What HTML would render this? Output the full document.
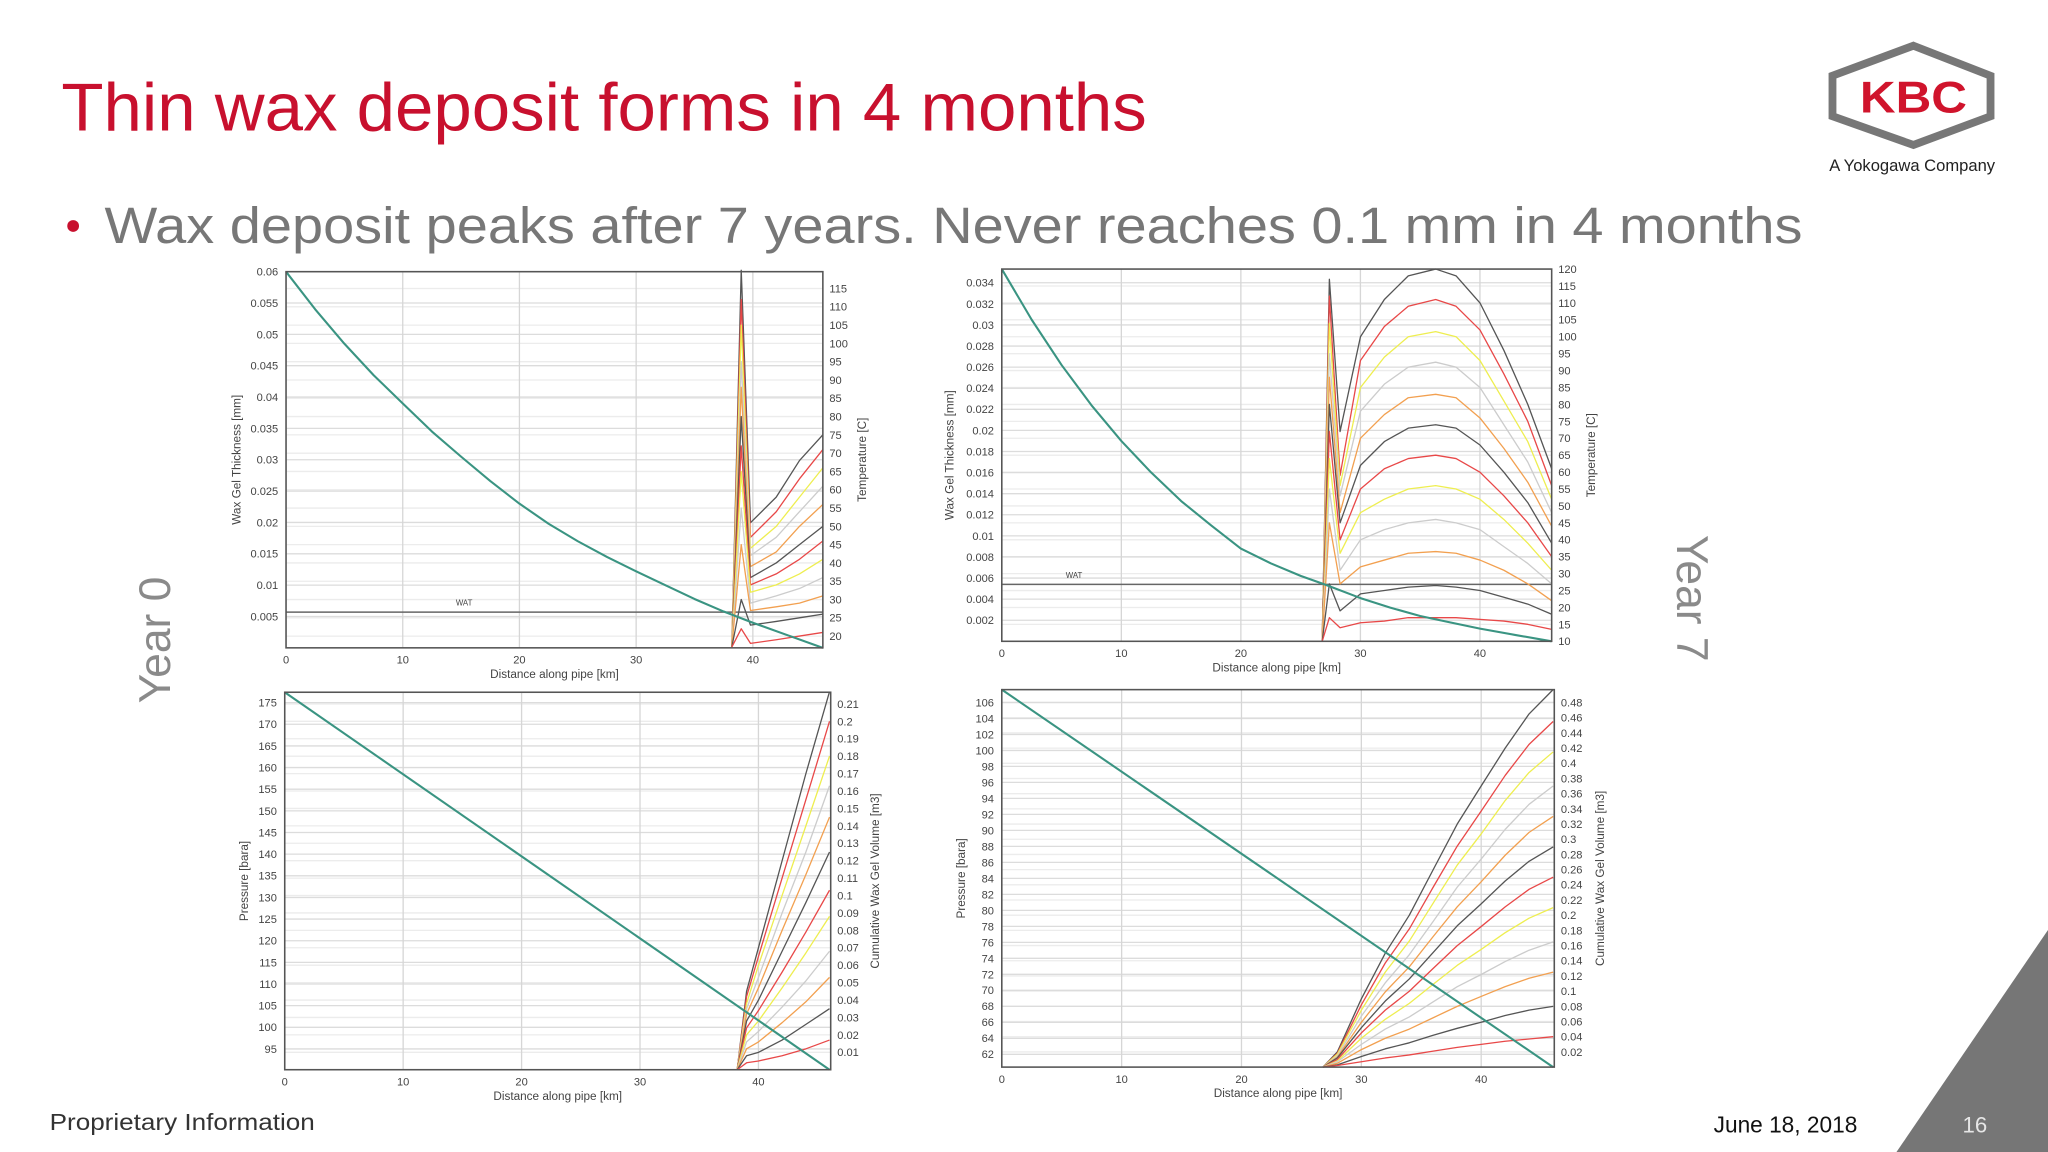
<!DOCTYPE html>
<html><head><meta charset="utf-8"><style>
html,body{margin:0;padding:0;background:#fff;}
svg{display:block;}
text{font-family:"Liberation Sans",sans-serif;}
</style></head><body>
<svg id="slide" width="2048" height="1152" viewBox="0 0 1568 882" xmlns="http://www.w3.org/2000/svg">
<rect x="0" y="0" width="1568" height="882" fill="#fff"/>
<text x="47" y="100" font-size="52" fill="#c8102e" textLength="831" lengthAdjust="spacingAndGlyphs">Thin wax deposit forms in 4 months</text>
<circle cx="56" cy="173" r="4.5" fill="#c8102e"/>
<text x="80" y="186" font-size="39" fill="#777" textLength="1300" lengthAdjust="spacingAndGlyphs">Wax deposit peaks after 7 years. Never reaches 0.1 mm in 4 months</text>
<g>
<polygon points="1465,35 1524,58 1524,89 1465,111 1403,89 1403,58" fill="#fff" stroke="#777" stroke-width="6"/>
<text x="1465" y="86" text-anchor="middle" font-size="34" font-weight="bold" fill="#d0142c" textLength="82" lengthAdjust="spacingAndGlyphs">KBC</text>
<text x="1464" y="131" text-anchor="middle" font-size="12.5" fill="#222" textLength="127" lengthAdjust="spacingAndGlyphs">A Yokogawa Company</text>
</g>
<text transform="translate(130,490) rotate(-90)" text-anchor="middle" font-size="34" fill="#8a8a8a">Year 0</text>
<text transform="translate(1284,458) rotate(90)" text-anchor="middle" font-size="34" fill="#8a8a8a">Year 7</text>
<g id="charts"></g>
<text x="38" y="865" font-size="18" fill="#333" textLength="203" lengthAdjust="spacingAndGlyphs">Proprietary Information</text>
<text x="1312" y="867" font-size="18" fill="#111" textLength="110" lengthAdjust="spacingAndGlyphs">June 18, 2018</text>
<polygon points="1452,882 1568,712 1568,882" fill="#767676"/>
<text x="1512" y="867" text-anchor="middle" font-size="17" fill="#e6e6e6">16</text>
</svg>
<script>
// ---- shared ----
const COLORS = ['#555','#e84848','#eeee50','#cccccc','#f2a050'];
const xTicks = [0,10,20,30,40];

// ---- chart A (top-left, year 0 thickness / temperature) ----
const aLeftTicks = [0.005,0.01,0.015,0.02,0.025,0.03,0.035,0.04,0.045,0.05,0.055,0.06];
const aRightTicks = [20,25,30,35,40,45,50,55,60,65,70,75,80,85,90,95,100,105,110,115];
const aGreenX = [0,2.5,5,7.5,10,12.5,15,17.5,20,22.5,25,27.5,30,32.5,35,37.5,40,43,46];
const aGreenY = [0.06,0.054,0.0485,0.0435,0.039,0.0345,0.0305,0.0266,0.023,0.0198,0.017,0.0145,0.0122,0.01,0.0078,0.0058,0.004,0.002,0];
const aSeriesX = [38.2,39,39.8,42,44,46];
const aSeries = [
 [17,120,51,58,68,75],[17,112,47,54,63,71],[17,105,44,50,58,66],[17,95,42,47,54,61],
 [17,88,39,43,50,56],[17,80,36,40,45,50],[17,72,34,37,41,46],[17,65,32,34,37,41],
 [17,55,29,31,33,36],[17,45,27,28,29,31],[17,30,23,24,25,26],[17,22,18,19,20,21]];
const aWat = 0.0057;

// ---- chart B (top-right, year 7 thickness / temperature) ----
const bLeftTicks = [0.002,0.004,0.006,0.008,0.01,0.012,0.014,0.016,0.018,0.02,0.022,0.024,0.026,0.028,0.03,0.032,0.034];
const bRightTicks = [10,15,20,25,30,35,40,45,50,55,60,65,70,75,80,85,90,95,100,105,110,115,120];
const bGreenX = [0,2.5,5,7.5,10,12.5,15,17.5,20,22.5,25,27,30,32.5,35,37.5,40,43,46];
const bGreenY = [0.0353,0.0305,0.0262,0.0224,0.019,0.016,0.0133,0.011,0.0088,0.0074,0.0062,0.0054,0.0041,0.0032,0.0024,0.0018,0.0012,0.0006,0];
const bSeriesX = [26.8,27.4,28.3,30,32,34,36.3,38,40,42,44,46];
const bSeries = [
 [10,117,72,100,111,118,120,118,110,96,80,61],
 [10,112,59,93,103,109,111,109,102,89,75,56],
 [10,104,56,85,94,100,101.5,100,93,81,69,52],
 [10,95,53,78,86,91,92.5,91,85,74,63,48],
 [10,88,48,70,77,82,83,82,76,67,57,44],
 [10,80,45,62,69,73,74,73,68,60,51,39],
 [10,72,40,55,61,64,65,64,60,53,45,35],
 [10,64,36,48,52,55,56,55,52,46,39,31],
 [10,55,31,40,43,45,46,45,43,38,33,27],
 [10,45,27,32,34,36,36.5,36,34,31,27,22],
 [10,27,19,24,25,26,26.5,26,25,23,21,18],
 [10,17,14,15.5,16,17,17,17,16.5,16,15,13.5]];
const bWat = 0.0054;

// ---- chart C (bottom-left, year 0 pressure / cumulative volume) ----
const cLeftTicks = [95,100,105,110,115,120,125,130,135,140,145,150,155,160,165,170,175];
const cRightTicks = [0.01,0.02,0.03,0.04,0.05,0.06,0.07,0.08,0.09,0.1,0.11,0.12,0.13,0.14,0.15,0.16,0.17,0.18,0.19,0.2,0.21];
const cGreenX = [0,46];
const cGreenY = [177.4,90.2];
const cSeriesX = [38.2,39,40,42,44,46];
const cSeries = [
 [0,0.045,0.07,0.12,0.17,0.217],[0,0.042,0.065,0.11,0.155,0.2],[0,0.038,0.06,0.1,0.14,0.18],
 [0,0.035,0.053,0.09,0.125,0.163],[0,0.032,0.047,0.08,0.112,0.145],[0,0.028,0.04,0.068,0.096,0.125],
 [0,0.024,0.034,0.056,0.079,0.103],[0,0.02,0.028,0.047,0.067,0.088],[0,0.016,0.022,0.036,0.051,0.068],
 [0,0.012,0.016,0.027,0.039,0.053],[0,0.008,0.01,0.017,0.026,0.035],[0,0.004,0.005,0.008,0.012,0.017]];

// ---- chart D (bottom-right, year 7 pressure / cumulative volume) ----
const dLeftTicks = [62,64,66,68,70,72,74,76,78,80,82,84,86,88,90,92,94,96,98,100,102,104,106];
const dRightTicks = [0.02,0.04,0.06,0.08,0.1,0.12,0.14,0.16,0.18,0.2,0.22,0.24,0.26,0.28,0.3,0.32,0.34,0.36,0.38,0.4,0.42,0.44,0.46,0.48];
const dGreenX = [0,46];
const dGreenY = [107.6,60.4];
const dSeriesX = [26.8,28,30,32,34,36,38,40,42,44,46];
const dSeries = [
 [0,0.02,0.09,0.15,0.2,0.26,0.32,0.37,0.42,0.465,0.497],
 [0,0.018,0.082,0.137,0.182,0.237,0.291,0.337,0.384,0.425,0.455],
 [0,0.017,0.075,0.125,0.166,0.216,0.266,0.307,0.351,0.388,0.415],
 [0,0.015,0.067,0.111,0.148,0.192,0.237,0.274,0.313,0.346,0.37],
 [0,0.013,0.059,0.099,0.132,0.172,0.211,0.244,0.279,0.309,0.33],
 [0,0.012,0.052,0.087,0.116,0.151,0.186,0.215,0.245,0.271,0.29],
 [0,0.01,0.045,0.075,0.1,0.13,0.16,0.185,0.211,0.234,0.25],
 [0,0.008,0.038,0.063,0.084,0.109,0.134,0.155,0.177,0.196,0.21],
 [0,0.007,0.03,0.05,0.066,0.086,0.106,0.122,0.139,0.154,0.165],
 [0,0.005,0.023,0.038,0.05,0.065,0.08,0.093,0.106,0.117,0.125],
 [0,0.003,0.014,0.024,0.032,0.042,0.051,0.059,0.068,0.075,0.08],
 [0,0.002,0.007,0.012,0.016,0.021,0.026,0.03,0.034,0.037,0.04]];

const NS='http://www.w3.org/2000/svg';
function mk(tag, attrs, parent){
  const e=document.createElementNS(NS,tag);
  for(const k in attrs) e.setAttribute(k,attrs[k]);
  parent.appendChild(e); return e;
}
function buildChart(cfg){
  const root=document.getElementById('charts');
  const g=mk('g',{},root);
  
  
  const L=cfg.l,R=cfg.r,T=cfg.t,B=cfg.b;
  const sx=v=>L+(v-0)/(cfg.xMax)*(R-L);
  const syL=v=>B-(v-cfg.yL[0])/(cfg.yL[1]-cfg.yL[0])*(B-T);
  const syR=v=>B-(v-cfg.yR[0])/(cfg.yR[1]-cfg.yR[0])*(B-T);
  mk('rect',{x:L,y:T,width:R-L,height:B-T,fill:'#fff'},g);
  cfg.rightTicks.forEach(v=>{ mk('line',{x1:L,x2:R,y1:syR(v),y2:syR(v),stroke:'#ececec','stroke-width':1},g); });
  cfg.leftTicks.forEach(v=>{
    const gl=mk('line',{x1:L,x2:R,y1:syL(v),y2:syL(v),stroke:'#dcdcdc','stroke-width':1},g);
    
    
    const t=mk('text',{x:L-6,y:syL(v)+3,'font-size':8.5,'text-anchor':'end',fill:'#444'},g);
    t.textContent=String(v);
    
    
  });
  xTicks.forEach(v=>{
    const gl=mk('line',{x1:sx(v),x2:sx(v),y1:T,y2:B,stroke:'#d6d6d6','stroke-width':1},g);
    
    
    const t=mk('text',{x:sx(v),y:B+12,'font-size':8.5,'text-anchor':'middle',fill:'#444'},g);
    t.textContent=String(v);
    
    
  });
  cfg.rightTicks.forEach(v=>{
    const t=mk('text',{x:R+5,y:syR(v)+3,'font-size':8.5,fill:'#444'},g);
    t.textContent=String(v);
    
    
  });
  const xt=mk('text',{x:(L+R)/2,y:B+23,'font-size':9,'text-anchor':'middle',fill:'#444'},g);
  xt.textContent='Distance along pipe [km]';
  
  
  const lt=mk('text',{transform:`translate(${cfg.ltx},${(T+B)/2}) rotate(-90)`,'font-size':9,'text-anchor':'middle',fill:'#444'},g);
  lt.textContent=cfg.leftTitle;
  
  
  const rt=mk('text',{transform:`translate(${cfg.rtx},${(T+B)/2}) rotate(-90)`,'font-size':9,'text-anchor':'middle',fill:'#444'},g);
  rt.textContent=cfg.rightTitle;
  
  
  if(cfg.wat!=null){
    const w=mk('line',{x1:L,x2:R,y1:syL(cfg.wat),y2:syL(cfg.wat),stroke:'#666','stroke-width':1.2},g);
    
    
    const wl=mk('text',{x:cfg.watX,y:syL(cfg.wat)-5,'font-size':6,fill:'#444'},g);
    wl.textContent='WAT';
    
    
  }
  cfg.series.forEach((s,i)=>{
    const pts=s.map((v,j)=>sx(cfg.seriesX[j]).toFixed(1)+','+syR(v).toFixed(1)).join(' ');
    const p=mk('polyline',{points:pts,fill:'none',stroke:COLORS[i%5],'stroke-width':1,'stroke-linejoin':'round'},g);
    
    
  });
  const gp=cfg.greenX.map((v,j)=>sx(v).toFixed(1)+','+syL(cfg.greenY[j]).toFixed(1)).join(' ');
  const gr=mk('polyline',{points:gp,fill:'none',stroke:'#3a9482','stroke-width':1.6,'stroke-linejoin':'round'},g);
  
  
  const fr=mk('rect',{x:L,y:T,width:R-L,height:B-T,fill:'none',stroke:'#555','stroke-width':1.2},g);
  
  
}
buildChart({name:'chart-year0-thickness',l:219,r:630,t:208,b:496,xMax:46,yL:[0,0.06],yR:[16.8,119.6],
  leftTicks:aLeftTicks,rightTicks:aRightTicks,leftTitle:'Wax Gel Thickness [mm]',rightTitle:'Temperature [C]',ltx:184,rtx:663,
  greenX:aGreenX,greenY:aGreenY,seriesX:aSeriesX,series:aSeries,wat:aWat,watX:349});
buildChart({name:'chart-year7-thickness',l:767,r:1188,t:206,b:491,xMax:46,yL:[0,0.0353],yR:[10,120],
  leftTicks:bLeftTicks,rightTicks:bRightTicks,leftTitle:'Wax Gel Thickness [mm]',rightTitle:'Temperature [C]',ltx:730,rtx:1221,
  greenX:bGreenX,greenY:bGreenY,seriesX:bSeriesX,series:bSeries,wat:bWat,watX:816});
buildChart({name:'chart-year0-pressure',l:218,r:636,t:530,b:819,xMax:46.1,yL:[90.2,177.4],yR:[0,0.2167],
  leftTicks:cLeftTicks,rightTicks:cRightTicks,leftTitle:'Pressure [bara]',rightTitle:'Cumulative Wax Gel Volume [m3]',ltx:190,rtx:673,
  greenX:cGreenX,greenY:cGreenY,seriesX:cSeriesX,series:cSeries,wat:null});
buildChart({name:'chart-year7-pressure',l:767,r:1190,t:528,b:817,xMax:46.1,yL:[60.4,107.6],yR:[0,0.497],
  leftTicks:dLeftTicks,rightTicks:dRightTicks,leftTitle:'Pressure [bara]',rightTitle:'Cumulative Wax Gel Volume [m3]',ltx:739,rtx:1228,
  greenX:dGreenX,greenY:dGreenY,seriesX:dSeriesX,series:dSeries,wat:null});
</script>
</body></html>
